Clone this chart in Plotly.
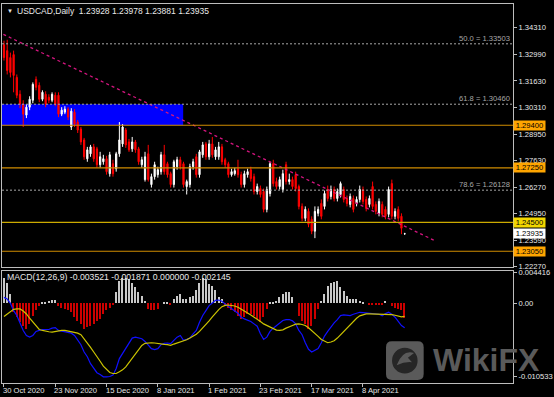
import plotly.graph_objects as go

# ---------------- data ----------------
title_text = "USDCAD,Daily  1.23928 1.23978 1.23881 1.23935"
macd_text = "MACD(12,26,9) -0.003521 -0.001871 0.000000 -0.002145"

open_ = [1.3346, 1.3316, 1.3281, 1.3296, 1.3181, 1.3096, 1.3046, 1.2991, 1.3031, 1.3066,
         1.3171, 1.3141, 1.3071, 1.3096, 1.3081, 1.3066, 1.3091, 1.3091, 1.2996, 1.3006,
         1.3021, 1.2931, 1.3006, 1.2956, 1.2921, 1.2866, 1.2771, 1.2796, 1.2831, 1.2821,
         1.2741, 1.2756, 1.2771, 1.2696, 1.2746, 1.2721, 1.2796, 1.2846, 1.2916, 1.2856,
         1.2821, 1.2856, 1.2821, 1.2741, 1.2666, 1.2796, 1.2641, 1.2681, 1.2691, 1.2706,
         1.2791, 1.2746, 1.2696, 1.2641, 1.2731, 1.2766, 1.2746, 1.2631, 1.2641, 1.2731,
         1.2781, 1.2691, 1.2791, 1.2846, 1.2781, 1.2846, 1.2781, 1.2781, 1.2831, 1.2766,
         1.2746, 1.2691, 1.2696, 1.2721, 1.2691, 1.2641, 1.2691, 1.2716, 1.2681, 1.2606,
         1.2621, 1.2606, 1.2516, 1.2596, 1.2746, 1.2656, 1.2631, 1.2616, 1.2741, 1.2656,
         1.2666, 1.2691, 1.2631, 1.2531, 1.2471, 1.2506, 1.2466, 1.2406, 1.2496, 1.2546,
         1.2531, 1.2616, 1.2581, 1.2616, 1.2571, 1.2591, 1.2616, 1.2571, 1.2541, 1.2571,
         1.2546, 1.2566, 1.2616, 1.2566, 1.2541, 1.2631, 1.2541, 1.2496, 1.2541, 1.2516,
         1.2491, 1.2646, 1.2481, 1.2516, 1.2481, 1.23928]
high = [1.3366, 1.3371, 1.3306, 1.3316, 1.3196, 1.3116, 1.3066, 1.3046, 1.3086, 1.3156,
        1.3186, 1.3156, 1.3116, 1.3111, 1.3096, 1.3106, 1.3106, 1.3106, 1.3031, 1.3036,
        1.3031, 1.3026, 1.3021, 1.2966, 1.2931, 1.2876, 1.2831, 1.2841, 1.2846, 1.2831,
        1.2806, 1.2791, 1.2786, 1.2806, 1.2766, 1.2806, 1.2956, 1.2946, 1.2926, 1.2871,
        1.2881, 1.2866, 1.2831, 1.2781, 1.2806, 1.2841, 1.2696, 1.2756, 1.2731, 1.2806,
        1.2841, 1.2756, 1.2706, 1.2766, 1.2781, 1.2781, 1.2756, 1.2666, 1.2746, 1.2771,
        1.2796, 1.2816, 1.2856, 1.2856, 1.2866, 1.2881, 1.2831, 1.2856, 1.2846, 1.2776,
        1.2756, 1.2721, 1.2726, 1.2766, 1.2706, 1.2711, 1.2721, 1.2731, 1.2696, 1.2646,
        1.2636, 1.2621, 1.2631, 1.2756, 1.2766, 1.2676, 1.2681, 1.2716, 1.2756, 1.2696,
        1.2681, 1.2706, 1.2641, 1.2546, 1.2531, 1.2521, 1.2481, 1.2531, 1.2531, 1.2566,
        1.2611, 1.2636, 1.2636, 1.2631, 1.2621, 1.2656, 1.2631, 1.2586, 1.2596, 1.2586,
        1.2581, 1.2636, 1.2631, 1.2581, 1.2586, 1.2656, 1.2556, 1.2571, 1.2556, 1.2531,
        1.2631, 1.2666, 1.2521, 1.2531, 1.2496, 1.23978]
low = [1.3266, 1.3196, 1.3181, 1.3106, 1.3076, 1.3026, 1.2931, 1.2976, 1.3016, 1.3051,
       1.3116, 1.3056, 1.3061, 1.3031, 1.3051, 1.3056, 1.3036, 1.2981, 1.2986, 1.2996,
       1.2966, 1.2916, 1.2931, 1.2901, 1.2841, 1.2766, 1.2756, 1.2781, 1.2756, 1.2726,
       1.2726, 1.2741, 1.2691, 1.2681, 1.2681, 1.2706, 1.2781, 1.2831, 1.2826, 1.2806,
       1.2806, 1.2801, 1.2741, 1.2726, 1.2656, 1.2656, 1.2626, 1.2666, 1.2676, 1.2691,
       1.2691, 1.2676, 1.2626, 1.2626, 1.2716, 1.2716, 1.2626, 1.2591, 1.2626, 1.2716,
       1.2676, 1.2676, 1.2776, 1.2766, 1.2766, 1.2776, 1.2766, 1.2766, 1.2741, 1.2726,
       1.2676, 1.2681, 1.2686, 1.2676, 1.2626, 1.2626, 1.2676, 1.2656, 1.2591, 1.2591,
       1.2576, 1.2501, 1.2501, 1.2581, 1.2631, 1.2616, 1.2616, 1.2601, 1.2641, 1.2641,
       1.2616, 1.2606, 1.2516, 1.2456, 1.2456, 1.2426, 1.2391, 1.2371, 1.2481, 1.2466,
       1.2516, 1.2556, 1.2566, 1.2556, 1.2556, 1.2576, 1.2551, 1.2531, 1.2526, 1.2501,
       1.2531, 1.2551, 1.2541, 1.2506, 1.2526, 1.2516, 1.2491, 1.2481, 1.2476, 1.2466,
       1.2476, 1.2466, 1.2466, 1.2456, 1.2391, 1.23881]
close = [1.3281, 1.3216, 1.3206, 1.3191, 1.3091, 1.3046, 1.2996, 1.3031, 1.3071, 1.3146,
         1.3131, 1.3071, 1.3106, 1.3046, 1.3066, 1.3096, 1.3046, 1.2996, 1.3016, 1.3021,
         1.2981, 1.3011, 1.2946, 1.2916, 1.2856, 1.2781, 1.2816, 1.2831, 1.2771, 1.2741,
         1.2781, 1.2771, 1.2706, 1.2791, 1.2696, 1.2796, 1.2866, 1.2931, 1.2841, 1.2816,
         1.2856, 1.2816, 1.2756, 1.2766, 1.2781, 1.2666, 1.2681, 1.2741, 1.2716, 1.2791,
         1.2706, 1.2691, 1.2641, 1.2756, 1.2766, 1.2731, 1.2641, 1.2656, 1.2731, 1.2756,
         1.2691, 1.2806, 1.2841, 1.2781, 1.2846, 1.2791, 1.2816, 1.2831, 1.2756, 1.2741,
         1.2691, 1.2706, 1.2711, 1.2691, 1.2641, 1.2696, 1.2706, 1.2671, 1.2606, 1.2631,
         1.2591, 1.2516, 1.2616, 1.2746, 1.2646, 1.2631, 1.2666, 1.2696, 1.2656, 1.2666,
         1.2631, 1.2621, 1.2531, 1.2471, 1.2516, 1.2441, 1.2406, 1.2506, 1.2516, 1.2481,
         1.2596, 1.2571, 1.2616, 1.2571, 1.2606, 1.2646, 1.2566, 1.2546, 1.2581, 1.2516,
         1.2566, 1.2616, 1.2556, 1.2521, 1.2571, 1.2531, 1.2506, 1.2556, 1.2491, 1.2481,
         1.2616, 1.2481, 1.2506, 1.2471, 1.2421, 1.23935]

macd_main = [0.00086, 0.00062, 0.0000, -0.00105, -0.00176, -0.00296, -0.00391, -0.00463, -0.00487, -0.00463,
             -0.00405, -0.0039, -0.00377, -0.00377, -0.00377, -0.00358, -0.0035, -0.0039, -0.0040, -0.00405,
             -0.00415, -0.0043, -0.00463, -0.00534, -0.00596, -0.00701, -0.0077, -0.0087, -0.0094, -0.0100,
             -0.01025, -0.01059, -0.0106, -0.01055, -0.01035, -0.0094, -0.00797, -0.00725, -0.00653, -0.00582,
             -0.00501, -0.00487, -0.00501, -0.0051, -0.00549, -0.00606, -0.00653, -0.00668, -0.00653, -0.00596,
             -0.00577, -0.00572, -0.00582, -0.00534, -0.00487, -0.00463, -0.00534, -0.0052, -0.00501, -0.00439,
             -0.00391, -0.00272, -0.00176, -0.00105, -0.00033, 0.00005, 0.00043, 0.00048, 0.00029, -0.0001,
             -0.00048, -0.00081, -0.0011, -0.00143, -0.0020, -0.00224, -0.00239, -0.00262, -0.00296, -0.00329,
             -0.00439, -0.0052, -0.00487, -0.00405, -0.00358, -0.0032, -0.00281, -0.00248, -0.00234, -0.00234,
             -0.00253, -0.00296, -0.00391, -0.00453, -0.00568, -0.00663, -0.00701, -0.00677, -0.00653, -0.00568,
             -0.00472, -0.00405, -0.00339, -0.00281, -0.00234, -0.00176, -0.00167, -0.00172, -0.00176, -0.00157,
             -0.00138, -0.00129, -0.00133, -0.00138, -0.00138, -0.00143, -0.00148, -0.00157, -0.00181, -0.00148,
             -0.00129, -0.00157, -0.0020, -0.00253, -0.0032, -0.00352]
macd_signal = [-0.0019, -0.00153, -0.00114, -0.00086, -0.00081, -0.00081, -0.0011, -0.00153, -0.00215, -0.00272,
               -0.00329, -0.00377, -0.00391, -0.00405, -0.0041, -0.00415, -0.00405, -0.004, -0.00391, -0.00391,
               -0.004, -0.00405, -0.00415, -0.0043, -0.00453, -0.0051, -0.00568, -0.00634, -0.00701, -0.00763,
               -0.00835, -0.00906, -0.00959, -0.00997, -0.01011, -0.01011, -0.00987, -0.00959, -0.00916, -0.00854,
               -0.00787, -0.00716, -0.00653, -0.00606, -0.00577, -0.00568, -0.00568, -0.00572, -0.00582, -0.00587,
               -0.00591, -0.00596, -0.00606, -0.00587, -0.00572, -0.00558, -0.00539, -0.00525, -0.00501, -0.00477,
               -0.00444, -0.00405, -0.00358, -0.0031, -0.00253, -0.00196, -0.00138, -0.00091, -0.00048, -0.00029,
               -0.00024, -0.00029, -0.00038, -0.00057, -0.00081, -0.0011, -0.00138, -0.00167, -0.00196, -0.00229,
               -0.00262, -0.00296, -0.0032, -0.00343, -0.00367, -0.00386, -0.00391, -0.00382, -0.00358, -0.00334,
               -0.0032, -0.003, -0.00296, -0.00305, -0.0032, -0.00353, -0.00391, -0.00439, -0.00477, -0.0052,
               -0.00549, -0.00568, -0.00558, -0.00539, -0.00501, -0.00453, -0.00405, -0.00348, -0.00296, -0.00248,
               -0.00215, -0.00181, -0.00162, -0.00153, -0.00153, -0.00153, -0.00153, -0.00153, -0.00153, -0.00153,
               -0.00157, -0.00162, -0.00172, -0.00181, -0.00196, -0.00187]
macd_hist = [0.0036, 0.0030, 0.0013, -0.0012, -0.0020, -0.0027, -0.0033, -0.0037, -0.0030, -0.0018,
             -0.0010, -0.0004, 0.0001, 0.0002, 0.0003, 0.0005, 0.0005, -0.0003, -0.0006, -0.0008,
             -0.0010, -0.0013, -0.0020, -0.0025, -0.0030, -0.0037, -0.0034, -0.0032, -0.0030, -0.0025,
             -0.0022, -0.0015, -0.0010, -0.0006, -0.0002, 0.0016, 0.0032, 0.0036, 0.0037, 0.0035,
             0.0030, 0.0023, 0.0016, 0.0011, 0.0003, -0.0008, -0.0010, -0.0010, -0.0008, 0.0000,
             0.0001, 0.0001, -0.0001, 0.0006, 0.0011, 0.0014, 0.0006, 0.0006, 0.0009, 0.0011,
             0.0020, 0.0030, 0.0037, 0.0035, 0.0028, 0.0025, 0.0020, 0.0009, 0.0006, -0.0003,
             -0.0006, -0.0010, -0.0013, -0.0018, -0.0022, -0.0020, -0.0015, -0.0015, -0.0018, -0.0022,
             -0.0027, -0.0020, -0.0008, 0.0002, 0.0002, 0.0004, 0.0009, 0.0013, 0.0016, 0.0016,
             0.0009, 0.0000, -0.0018, -0.0025, -0.0030, -0.0037, -0.0032, -0.0022, -0.0008, 0.0004,
             0.0013, 0.0025, 0.0030, 0.0031, 0.0033, 0.0023, 0.0018, 0.0011, 0.0006, 0.0007,
             0.0006, 0.0004, 0.0001, 0.0000, -0.0002, -0.0002, -0.0002, -0.0002, -0.0001, 0.0004,
             0.0000, -0.0003, -0.0006, -0.0008, -0.0010, -0.0021]

date_tick_idx = [0, 16, 32, 48, 64, 80, 96, 112]
date_tick_labels = ["30 Oct 2020", "23 Nov 2020", "15 Dec 2020", "8 Jan 2021",
                    "1 Feb 2021", "23 Feb 2021", "17 Mar 2021", "8 Apr 2021"]

price_ticks = [1.34310, 1.32990, 1.31630, 1.30310, 1.28950, 1.27630, 1.26270, 1.24950, 1.23590, 1.22270]
macd_ticks = [0.004416, 0.0, -0.010533]
macd_tick_labels = ["0.004416", "0.00", "-0.010533"]

fib_levels = [1.33503, 1.30460, 1.26128]
fib_names = ["50.0", "61.8", "78.6"]
hline_levels = [1.29400, 1.27250, 1.24500, 1.23050]
hline_kinds = ["orange", "orange", "yellow", "orange"]
current_price = 1.23935

zone_x = [-0.62, 55.9]
zone_y = [1.2940, 1.3046]
trend_x = [-0.2, 134.6]
trend_y = [1.3398, 1.2357]

# ---------------- figure ----------------
idx = list(range(len(close)))
FONT = "Liberation Sans"
TXT = "#E8E8E8"
FRAME = "#BDBDBD"

fig = go.Figure()

fig.add_trace(go.Candlestick(
    x=idx, open=open_, high=high, low=low, close=close,
    xaxis="x", yaxis="y",
    increasing=dict(line=dict(color="#FFFFFF", width=1), fillcolor="#FFFFFF"),
    decreasing=dict(line=dict(color="#FF0000", width=1), fillcolor="#FF0000"),
    whiskerwidth=0, showlegend=False, hoverinfo="skip"))

fig.add_trace(go.Scatter(
    x=trend_x, y=trend_y, mode="lines", xaxis="x", yaxis="y",
    line=dict(color="#D4157F", width=1.3, dash="3px,3px"),
    showlegend=False, hoverinfo="skip"))

hist_colors = ["#C8C8C8" if v > 0 else "#CC0000" for v in macd_hist]
fig.add_trace(go.Bar(
    x=idx, y=macd_hist, xaxis="x2", yaxis="y2", width=0.45,
    marker=dict(color=hist_colors, line=dict(width=0)),
    showlegend=False, hoverinfo="skip"))
fig.add_trace(go.Scatter(
    x=idx, y=macd_main, mode="lines", xaxis="x2", yaxis="y2",
    line=dict(color="#1010FF", width=1.2), showlegend=False, hoverinfo="skip"))
fig.add_trace(go.Scatter(
    x=idx, y=macd_signal, mode="lines", xaxis="x2", yaxis="y2",
    line=dict(color="#CCC400", width=1.2), showlegend=False, hoverinfo="skip"))

shapes = []
# blue zone
shapes.append(dict(type="rect", xref="x", yref="y", x0=zone_x[0], x1=zone_x[1],
                   y0=zone_y[0], y1=zone_y[1], fillcolor="#0000FF",
                   line=dict(width=0), layer="below"))
# fib dotted lines
for lv in fib_levels:
    shapes.append(dict(type="line", xref="x domain", yref="y", x0=0, x1=1, y0=lv, y1=lv,
                       line=dict(color="#A8A8A8", width=1, dash="2px,2px")))
# horizontal level lines
line_cols = {"orange": "#D08C00", "yellow": "#CCAA00"}
for lv, k in zip(hline_levels, hline_kinds):
    shapes.append(dict(type="line", xref="x domain", yref="y", x0=0, x1=1, y0=lv, y1=lv,
                       line=dict(color=line_cols[k], width=1.2)))

# WikiFX logo (rounded square + dark disc)
x0, x1, y0, y1 = 0.7515, 0.8252, 0.0079, 0.1099
rx, ry = 0.0117, 0.0157
path = (f"M {x0+rx},{y0} L {x1-rx},{y0} Q {x1},{y0} {x1},{y0+ry} L {x1},{y1-ry} "
        f"Q {x1},{y1} {x1-rx},{y1} L {x0+rx},{y1} Q {x0},{y1} {x0},{y1-ry} "
        f"L {x0},{y0+ry} Q {x0},{y0} {x0+rx},{y0} Z")
shapes.append(dict(type="path", xref="paper", yref="paper", path=path,
                   fillcolor="#5A5A5A", line=dict(width=0), layer="above"))
cx, cy = 0.7883, 0.0589
shapes.append(dict(type="circle", xref="paper", yref="paper",
                   x0=cx - 0.0250, x1=cx + 0.0250, y0=cy - 0.0340, y1=cy + 0.0340,
                   fillcolor="#262626", line=dict(width=0), layer="above"))
shapes.append(dict(type="path", xref="paper", yref="paper",
                   path=(f"M {cx-0.016},{cy-0.012} Q {cx-0.004},{cy+0.030} {cx+0.018},{cy+0.020} "
                         f"L {cx+0.006},{cy+0.008} L {cx+0.014},{cy-0.004} Q {cx},{cy-0.002} {cx-0.016},{cy-0.012} Z"),
                   fillcolor="#5A5A5A", line=dict(width=0), layer="above"))

annotations = []
# title
annotations.append(dict(text="▼", xref="paper", yref="paper", x=0, y=0.9817, xanchor="left",
                        yanchor="middle", xshift=3, showarrow=False,
                        font=dict(family=FONT, size=6, color=TXT)))
annotations.append(dict(text=title_text, xref="paper", yref="paper", x=0, y=0.9817,
                        xanchor="left", yanchor="middle", xshift=13, showarrow=False,
                        font=dict(family=FONT, size=8.5, color=TXT)))
annotations.append(dict(text=macd_text, xref="paper", yref="paper", x=0, y=0.2801,
                        xanchor="left", yanchor="middle", xshift=3, showarrow=False,
                        font=dict(family=FONT, size=8.7, color=TXT)))
# fib labels
for lv, nm in zip(fib_levels, fib_names):
    annotations.append(dict(text=f"{nm} = {lv:.5f}", xref="paper", yref="y", x=1, y=lv,
                            xanchor="right", yanchor="bottom", xshift=-1, yshift=-1,
                            showarrow=False, font=dict(family=FONT, size=7.6, color="#A8A8A8")))
# price boxes
box_cols = {"orange": "#FFA500", "yellow": "#F2D600"}
for lv, k in zip(hline_levels, hline_kinds):
    annotations.append(dict(text=f"{lv:.5f}", xref="paper", yref="y", x=1, y=lv,
                            xanchor="left", yanchor="middle", showarrow=False, width=31,
                            bgcolor=box_cols[k], borderpad=0,
                            font=dict(family=FONT, size=7.6, color="#000000")))
annotations.append(dict(text=f"{current_price:.5f}", xref="paper", yref="y", x=1, y=current_price,
                        xanchor="left", yanchor="middle", showarrow=False, width=31,
                        bgcolor="#FFFFFF", borderpad=0,
                        font=dict(family=FONT, size=7.6, color="#000000")))
# date labels
for i, lab in zip(date_tick_idx, date_tick_labels):
    annotations.append(dict(text=lab, xref="x2", yref="paper", x=i, y=-0.021,
                            xanchor="left", yanchor="middle", xshift=-3, showarrow=False,
                            font=dict(family=FONT, size=7.6, color=TXT)))
# watermark text
annotations.append(dict(text="<b>WikiFX</b>", xref="paper", yref="paper", x=0.8388, y=0.0602,
                        xanchor="left", yanchor="middle", showarrow=False,
                        font=dict(family=FONT, size=32, color="#5A5A5A")))

axis_common = dict(showgrid=False, zeroline=False, showline=True, mirror=True,
                   linecolor=FRAME, linewidth=1)

fig.update_layout(
    width=554, height=397,
    margin=dict(l=2, r=37, t=1, b=14),
    paper_bgcolor="#000000", plot_bgcolor="#000000",
    showlegend=False, boxgap=0.45, bargap=0,
    shapes=shapes, annotations=annotations,
    xaxis=dict(domain=[0, 1], anchor="y", range=[-0.62, 158.8], showticklabels=False,
               ticks="", rangeslider=dict(visible=False), **axis_common),
    yaxis=dict(domain=[0.30628, 1], anchor="x", range=[1.2226, 1.3551], side="right",
               tickvals=price_ticks, ticktext=[f"{v:.5f}" for v in price_ticks],
               ticks="outside", ticklen=3, tickcolor=FRAME,
               tickfont=dict(family=FONT, size=7.6, color=TXT), **axis_common),
    xaxis2=dict(domain=[0, 1], anchor="y2", range=[-0.62, 158.8], matches="x",
                tickvals=date_tick_idx, showticklabels=False, ticks="outside", ticklen=3,
                tickcolor=FRAME, **axis_common),
    yaxis2=dict(domain=[0, 0.29581], anchor="x2", range=[-0.011483, 0.004676], side="right",
                tickvals=macd_ticks, ticktext=macd_tick_labels,
                ticks="outside", ticklen=3, tickcolor=FRAME,
                tickfont=dict(family=FONT, size=7.6, color=TXT), **axis_common),
)

fig.write_html("out.html")
